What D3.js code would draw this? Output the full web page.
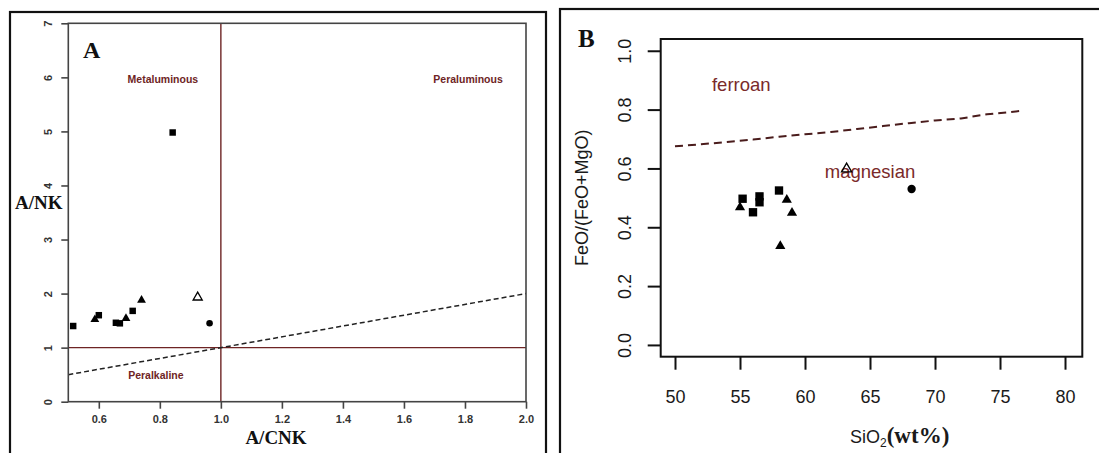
<!DOCTYPE html>
<html>
<head>
<meta charset="utf-8">
<script src="https://cdn.jsdelivr.net/npm/d3@7"></script>
<style>
  html, body { margin: 0; padding: 0; background: #fff; }
  svg { display: block; }
</style>
</head>
<body>
<svg id="chart" width="1099" height="453"></svg>
<script>
// ---- Panel A: A/CNK vs A/NK (Shand index) ----
const aSquareX = [0.516, 0.60, 0.656, 0.669, 0.711, 0.842];
const aSquareY = [1.40, 1.60, 1.46, 1.45, 1.68, 4.98];
const aTriangleX = [0.587, 0.689, 0.740];
const aTriangleY = [1.52, 1.54, 1.88];
const aOpenTriangleX = [0.924];
const aOpenTriangleY = [1.93];
const aCircleX = [0.963];
const aCircleY = [1.45];
const aXTicks = [0.6, 0.8, 1.0, 1.2, 1.4, 1.6, 1.8, 2.0];
const aYTicks = [0, 1, 2, 3, 4, 5, 6, 7];
const aDividerX = [0.5, 2.0];          // dashed A/NK = A/CNK line
const aDividerY = [0.5, 2.0];
const aFieldNames = ["Metaluminous", "Peraluminous", "Peralkaline"];
const aFieldX = [0.81, 1.81, 0.787];
const aFieldY = [5.97, 5.97, 0.49];

// ---- Panel B: SiO2 vs FeO/(FeO+MgO) ----
const bSquareX = [55.2, 56.5, 56.5, 56.0, 58.0];
const bSquareY = [0.497, 0.505, 0.485, 0.451, 0.525];
const bTriangleX = [55.0, 58.6, 59.0, 58.1];
const bTriangleY = [0.468, 0.493, 0.449, 0.336];
const bOpenTriangleX = [63.2];
const bOpenTriangleY = [0.598];
const bCircleX = [68.2];
const bCircleY = [0.530];
const bXTicks = [50, 55, 60, 65, 70, 75, 80];
const bYTicks = [0.0, 0.2, 0.4, 0.6, 0.8, 1.0];
const bBoundaryX = [50, 52, 54, 56, 58, 60, 62, 64, 66, 68, 70, 72, 74, 76.5];
const bBoundaryY = [0.675, 0.682, 0.69, 0.698, 0.708, 0.716, 0.724, 0.734, 0.744, 0.754, 0.763, 0.770, 0.784, 0.795];
const bFieldNames = ["ferroan", "magnesian"];
const bFieldX = [55.1, 65.0];
const bFieldY = [0.885, 0.59];

const svg = d3.select("#chart");
const red = "#6e2424";
const zip = (xs, ys) => xs.map((x, i) => [x, ys[i]]);

// outer frames of the two panels
svg.append("rect").attr("x", 10).attr("y", 12).attr("width", 536).attr("height", 460)
  .attr("fill", "none").attr("stroke", "#111").attr("stroke-width", 2.2);
svg.append("rect").attr("x", 560).attr("y", 9).attr("width", 560).attr("height", 460)
  .attr("fill", "none").attr("stroke", "#111").attr("stroke-width", 2.2);

// ================= Panel A =================
{
  const L = 68.3, R = 526, T = 23.3, B = 401.7;
  const x = d3.scaleLinear().domain([0.5, 2.0]).range([L, R]);
  const y = d3.scaleLinear().domain([0, 7]).range([B, T]);
  const g = svg.append("g");

  // field boundaries
  g.append("line").attr("x1", x(1.0)).attr("x2", x(1.0)).attr("y1", y(7)).attr("y2", y(0))
    .attr("stroke", red).attr("stroke-width", 1.4);
  g.append("line").attr("x1", x(0.5)).attr("x2", x(2.0)).attr("y1", y(1)).attr("y2", y(1))
    .attr("stroke", red).attr("stroke-width", 1.4);
  g.append("path").datum(zip(aDividerX, aDividerY))
    .attr("d", d3.line().x(d => x(d[0])).y(d => y(d[1])))
    .attr("fill", "none").attr("stroke", "#222").attr("stroke-width", 1.5)
    .attr("stroke-dasharray", "5,3");

  // plot box
  g.append("rect").attr("x", L).attr("y", T).attr("width", R - L).attr("height", B - T)
    .attr("fill", "none").attr("stroke", "#444").attr("stroke-width", 1.6);

  // axes
  const xa = g.append("g").attr("transform", `translate(0,${B})`)
    .call(d3.axisBottom(x).tickValues(aXTicks).tickSize(7).tickFormat(d3.format(".1f")));
  const ya = g.append("g").attr("transform", `translate(${L},0)`)
    .call(d3.axisLeft(y).tickValues(aYTicks).tickSize(7).tickFormat(d3.format("d")));
  [xa, ya].forEach(a => {
    a.select(".domain").remove();
    a.selectAll("line").attr("stroke", "#444").attr("stroke-width", 1.6);
    a.selectAll("text").attr("fill", "#333").attr("font-family", "Liberation Sans, Arial, sans-serif")
      .attr("font-size", 11).attr("font-weight", "bold");
  });
  xa.selectAll("text").attr("y", 14);
  ya.selectAll("text").attr("x", null).attr("dy", null)
    .attr("text-anchor", "middle").attr("dominant-baseline", "central")
    .attr("transform", "translate(-20,0) rotate(-90)");

  // field names
  g.selectAll("text.field").data(aFieldNames).enter().append("text")
    .attr("x", (d, i) => x(aFieldX[i])).attr("y", (d, i) => y(aFieldY[i]))
    .attr("text-anchor", "middle").attr("dominant-baseline", "central")
    .attr("font-family", "Liberation Sans, Arial, sans-serif").attr("font-size", 10.5)
    .attr("font-weight", "bold").attr("fill", red).text(d => d);

  // samples
  const pts = (xs, ys, type, size, filled) => {
    g.selectAll(null).data(zip(xs, ys)).enter().append("path")
      .attr("d", d3.symbol().type(type).size(size))
      .attr("transform", d => `translate(${x(d[0])},${y(d[1])})`)
      .attr("fill", filled ? "#000" : "#fff").attr("stroke", "#000")
      .attr("stroke-width", filled ? 0 : 1.3);
  };
  pts(aSquareX, aSquareY, d3.symbolSquare, 42, true);
  pts(aTriangleX, aTriangleY, d3.symbolTriangle, 34, true);
  pts(aOpenTriangleX, aOpenTriangleY, d3.symbolTriangle, 36, false);
  pts(aCircleX, aCircleY, d3.symbolCircle, 34, true);

  // titles
  g.append("text").attr("x", 83).attr("y", 58).text("A")
    .attr("font-family", "Liberation Serif, Times New Roman, serif").attr("font-weight", "bold")
    .attr("font-size", 24).attr("fill", "#111");
  g.append("text").attr("x", 15).attr("y", 209).text("A/NK")
    .attr("font-family", "Liberation Serif, Times New Roman, serif").attr("font-weight", "bold")
    .attr("font-size", 19).attr("fill", "#111");
  g.append("text").attr("x", 276).attr("y", 444).attr("text-anchor", "middle").text("A/CNK")
    .attr("font-family", "Liberation Serif, Times New Roman, serif").attr("font-weight", "bold")
    .attr("font-size", 19).attr("fill", "#111");
}

// ================= Panel B =================
{
  const L = 660.7, R = 1082.3, T = 39, B = 356.7;
  const x = d3.scaleLinear().domain([48.9, 81.33]).range([L, R]);
  const y = d3.scaleLinear().domain([-0.04, 1.04]).range([B, T]);
  const g = svg.append("g");

  g.append("rect").attr("x", L).attr("y", T).attr("width", R - L).attr("height", B - T)
    .attr("fill", "none").attr("stroke", "#111").attr("stroke-width", 2);

  const xa = g.append("g").attr("transform", `translate(0,${B})`)
    .call(d3.axisBottom(x).tickValues(bXTicks).tickSize(13).tickFormat(d3.format("d")));
  const ya = g.append("g").attr("transform", `translate(${L},0)`)
    .call(d3.axisLeft(y).tickValues(bYTicks).tickSize(13).tickFormat(d3.format(".1f")));
  [xa, ya].forEach(a => {
    a.select(".domain").remove();
    a.selectAll("line").attr("stroke", "#111").attr("stroke-width", 2);
    a.selectAll("text").attr("fill", "#1a1a1a").attr("font-family", "Liberation Sans, Arial, sans-serif")
      .attr("font-size", 18);
  });
  xa.selectAll("text").attr("y", 40).attr("dy", "0.35em").attr("dominant-baseline", null);
  ya.selectAll("text").attr("x", null).attr("dy", null)
    .attr("text-anchor", "middle").attr("dominant-baseline", "central")
    .attr("transform", "translate(-36,0) rotate(-90)");

  // ferroan / magnesian boundary
  g.append("path").datum(zip(bBoundaryX, bBoundaryY))
    .attr("d", d3.line().x(d => x(d[0])).y(d => y(d[1])))
    .attr("fill", "none").attr("stroke", "#4a1c1c").attr("stroke-width", 2)
    .attr("stroke-dasharray", "8,5");

  g.selectAll("text.field").data(bFieldNames).enter().append("text")
    .attr("x", (d, i) => x(bFieldX[i])).attr("y", (d, i) => y(bFieldY[i]))
    .attr("text-anchor", "middle").attr("dominant-baseline", "central")
    .attr("font-family", "Liberation Sans, Arial, sans-serif").attr("font-size", 18.5)
    .attr("fill", "#7a2a2a").text(d => d);

  const pts = (xs, ys, type, size, filled) => {
    g.selectAll(null).data(zip(xs, ys)).enter().append("path")
      .attr("d", d3.symbol().type(type).size(size))
      .attr("transform", d => `translate(${x(d[0])},${y(d[1])})`)
      .attr("fill", filled ? "#000" : "none").attr("stroke", "#000")
      .attr("stroke-width", filled ? 0 : 1.3);
  };
  pts(bSquareX, bSquareY, d3.symbolSquare, 70, true);
  pts(bTriangleX, bTriangleY, d3.symbolTriangle, 45, true);
  pts(bOpenTriangleX, bOpenTriangleY, d3.symbolTriangle, 45, false);
  pts(bCircleX, bCircleY, d3.symbolCircle, 55, true);

  g.append("text").attr("x", 578).attr("y", 47).text("B")
    .attr("font-family", "Liberation Serif, Times New Roman, serif").attr("font-weight", "bold")
    .attr("font-size", 25).attr("fill", "#111");

  g.append("text").attr("text-anchor", "middle").attr("dominant-baseline", "central")
    .attr("transform", `translate(582,${(T + B) / 2}) rotate(-90)`)
    .attr("font-family", "Liberation Sans, Arial, sans-serif").attr("font-size", 18)
    .attr("fill", "#1a1a1a").text("FeO/(FeO+MgO)");

  const xt = g.append("text").attr("x", 850).attr("y", 443).attr("fill", "#1a1a1a");
  xt.append("tspan").attr("font-family", "Liberation Sans, Arial, sans-serif").attr("font-size", 18).text("SiO");
  xt.append("tspan").attr("font-family", "Liberation Sans, Arial, sans-serif").attr("font-size", 12)
    .attr("dy", 4).text("2");
  xt.append("tspan").attr("font-family", "Liberation Serif, Times New Roman, serif").attr("font-size", 23)
    .attr("font-weight", "bold").attr("dy", -4).text("(wt%)");
}
</script>
</body>
</html>
